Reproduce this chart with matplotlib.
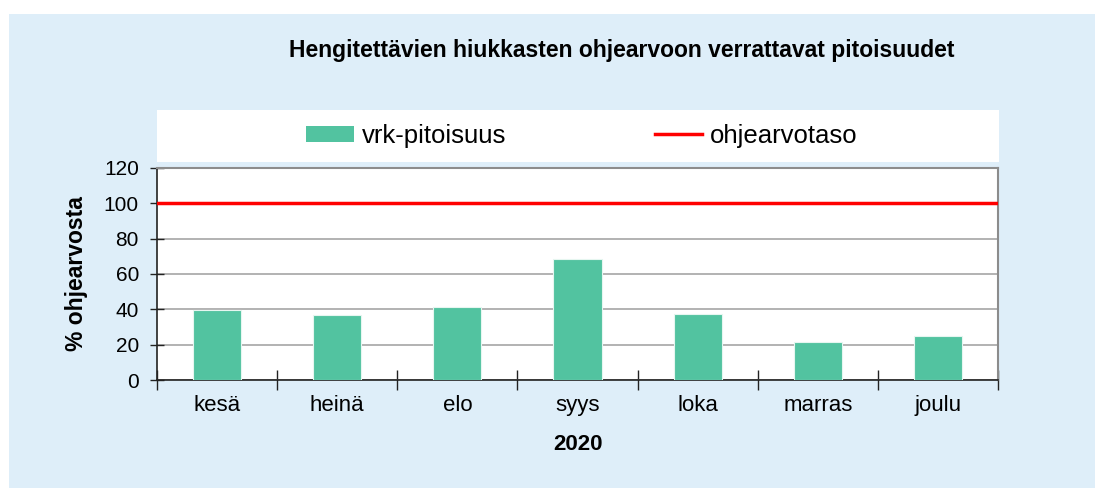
import numpy as np
import matplotlib.pyplot as plt
from matplotlib.patches import Rectangle
from matplotlib.lines import Line2D

plt.rcParams['font.family'] = ['Liberation Sans', 'DejaVu Sans']

# data
months = ['kesä', 'heinä', 'elo', 'syys', 'loka', 'marras', 'joulu']
pct_of_guideline = [39.7, 36.6, 41.5, 68.6, 37.5, 21.6, 25.0]
guideline_level = 100
year_label = '2020'

bar_color = '#52C3A0'
panel_color = '#DEEEF9'

fig = plt.figure(figsize=(10.95, 4.88), dpi=100)
W, H = 1095, 488

# light blue background panel
fig.patches.append(Rectangle((9 / W, 0), 1 - 9 / W, 1 - 14 / H, transform=fig.transFigure,
                             facecolor=panel_color, edgecolor='none', zorder=0))
# white legend strip
fig.patches.append(Rectangle((157 / W, 1 - 162 / H), (999 - 157) / W, 52 / H,
                             transform=fig.transFigure, facecolor='white',
                             edgecolor='none', zorder=1))

ax = fig.add_axes([157 / W, 1 - 380 / H, (998 - 157) / W, (380 - 168) / H])
ax.set_zorder(5)
ax.set_facecolor('white')

x = np.arange(len(months))
ax.bar(x, pct_of_guideline, width=0.4, color=bar_color, edgecolor='#E6F6F0',
       linewidth=0.8, zorder=3)
ax.axhline(guideline_level, color='#FF0000', linewidth=2.5, zorder=4)

ax.set_xlim(-0.5, len(months) - 0.5)
ax.set_ylim(0, 120)
ax.set_yticks(np.arange(0, 121, 20))
ax.yaxis.grid(True, color='#A6A6A6', linewidth=1.2, zorder=0)
ax.set_axisbelow(True)

# category ticks between bars, labels centred on bars
ax.set_xticks(np.arange(-0.5, len(months)), minor=False)
ax.set_xticklabels([])
ax.set_xticks(x, minor=True)
ax.set_xticklabels(months, minor=True, fontsize=16)
ax.tick_params(axis='x', which='minor', length=0, pad=11)
ax.tick_params(axis='x', which='major', direction='inout', length=14, width=1, color='#222222')
ax.tick_params(axis='y', direction='inout', length=10, width=1, color='#222222',
               labelsize=15, pad=8)

for side in ['top', 'right']:
    ax.spines[side].set_color('#8C8C8C')
    ax.spines[side].set_linewidth(1.5)
for side in ['left', 'bottom']:
    ax.spines[side].set_color('#222222')
    ax.spines[side].set_linewidth(1.2)

ax.set_ylabel('% ohjearvosta', fontsize=16.5, fontweight='bold')
ax.yaxis.set_label_coords((88 - 157) / 841, 0.5)
ax.set_xlabel(year_label, fontsize=16, fontweight='bold')
ax.xaxis.set_label_coords(0.5, -(434 - 380) / 212)

fig.text(622 / W, 1 - 50 / H, 'Hengitettävien hiukkasten ohjearvoon verrattavat pitoisuudet',
         ha='center', va='center', fontsize=16.5, fontweight='bold')

handles = [Rectangle((0, 0), 1, 1, facecolor=bar_color, edgecolor='none'),
           Line2D([0], [0], color='#FF0000', linewidth=2.5)]
fig.legend(handles, ['vrk-pitoisuus', 'ohjearvotaso'], ncol=2, frameon=False,
           loc='center', bbox_to_anchor=(582 / W, 1 - 136 / H), fontsize=18.5,
           handlelength=1.85, handleheight=0.6, handletextpad=0.3, columnspacing=5.8)

fig.savefig('out.png', dpi=100)
